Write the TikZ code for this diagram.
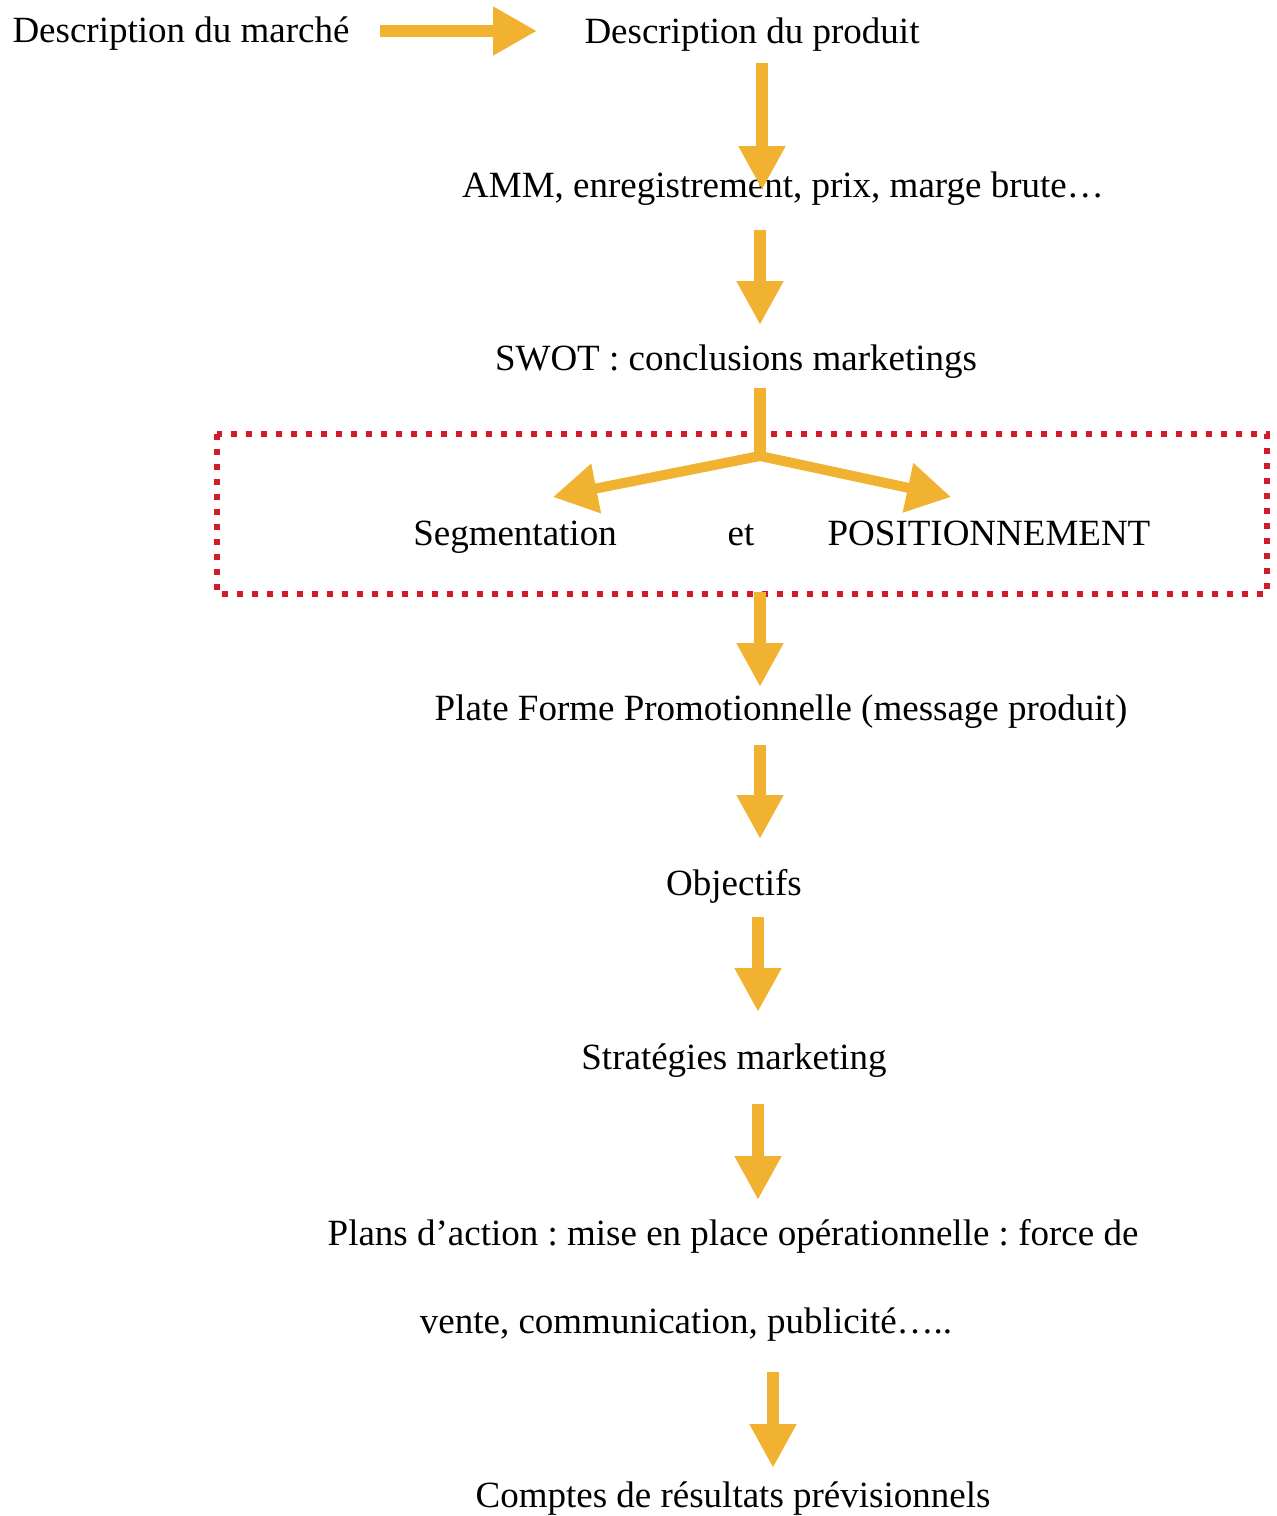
\documentclass[tikz,border=0pt]{standalone}
\usepackage{fontspec}
\setmainfont{Liberation Serif}
\usetikzlibrary{arrows.meta}
\definecolor{arr}{RGB}{240,178,48}
\definecolor{dotred}{RGB}{208,28,40}
\frenchspacing
\begin{document}
\begin{tikzpicture}[x=0.5pt,y=-0.5pt,
  txt/.style={font=\fontsize{18.5}{22}\selectfont, inner sep=0pt, anchor=base},
  fat/.style={draw=arr, line width=6pt, -{Triangle[width=22pt,length=22pt,fill=arr]}},
  fatbr/.style={draw=arr, line width=5pt, -{Triangle[width=24pt,length=22pt,fill=arr]}},
  dotbox/.style={draw=dotred, line width=3.2pt, dash pattern=on 3.2pt off 4.3pt}]
\useasboundingbox (0,0) rectangle (1276,1516);
% texts
\node[txt] (marche) at (181,42) {Description du marché};
\node[txt] (produit) at (752,43) {Description du produit};
\node[txt] (amm) at (783,197) {AMM, enregistrement, prix, marge brute…};
\node[txt] (swot) at (736,370) {SWOT : conclusions marketings};
\node[txt] (seg) at (515,545) {Segmentation};
\node[txt] (et) at (741,545) {et};
\node[txt] (pos) at (989,545) {POSITIONNEMENT};
\node[txt] (plate) at (781,720) {Plate Forme Promotionnelle (message produit)};
\node[txt] (obj) at (734,895) {Objectifs};
\node[txt] (strat) at (734,1069) {Stratégies marketing};
\node[txt] (plans) at (733,1245) {Plans d’action : mise en place opérationnelle : force de};
\node[txt] (vente) at (686,1333) {vente, communication, publicité…..};
\node[txt] (comptes) at (733,1507) {Comptes de résultats prévisionnels};
% dotted box
\draw[dotbox] (217,434) rectangle (1267,594);
% arrow coordinates
\coordinate (h1s) at (380,31);  \coordinate (h1e) at (537,31);
\coordinate (v1s) at (762,63);  \coordinate (v1e) at (762,190);
\coordinate (v2s) at (760,230); \coordinate (v2e) at (760,325);
\coordinate (v3s) at (760,388); \coordinate (br) at (760,456);
\coordinate (bl) at (553,497);  \coordinate (brr) at (951,497);
\coordinate (v4s) at (760,592); \coordinate (v4e) at (760,687);
\coordinate (v5s) at (760,745); \coordinate (v5e) at (760,839);
\coordinate (v6s) at (758,917); \coordinate (v6e) at (758,1012);
\coordinate (v7s) at (758,1104); \coordinate (v7e) at (758,1200);
\coordinate (v8s) at (773,1372); \coordinate (v8e) at (773,1468);
% arrows
\draw[fat,-{Triangle[width=23pt,length=22pt,fill=arr]}] (h1s) -- (h1e);
\draw[fat] (v1s) -- (v1e);
\draw[fat] (v2s) -- (v2e);
\draw[draw=arr, line width=6pt] (v3s) -- ([yshift=-1pt]br);
\draw[fatbr] (br) -- (bl);
\draw[fatbr] (br) -- (brr);
\draw[fat] (v4s) -- (v4e);
\draw[fat] (v5s) -- (v5e);
\draw[fat] (v6s) -- (v6e);
\draw[fat] (v7s) -- (v7e);
\draw[fat] (v8s) -- (v8e);
\end{tikzpicture}
\end{document}
